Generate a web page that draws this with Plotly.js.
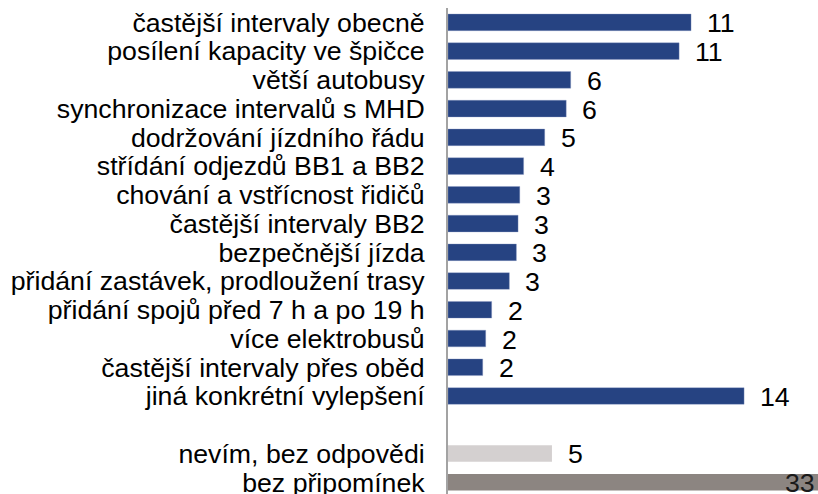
<!DOCTYPE html>
<html>
<head>
<meta charset="utf-8">
<script src="https://cdn.plot.ly/plotly-3.0.1.min.js"></script>
<style>html,body{margin:0;padding:0;background:#fff;}#chart{width:818px;height:494px;}</style>
</head>
<body>
<div id="chart"></div>
<script>
// Data (bar lengths; labels are the rounded values shown)
const improvementCats = [
  "častější intervaly obecně",
  "posílení kapacity ve špičce",
  "větší autobusy",
  "synchronizace intervalů s MHD",
  "dodržování jízdního řádu",
  "střídání odjezdů BB1 a BB2",
  "chování a vstřícnost řidičů",
  "častější intervaly BB2",
  "bezpečnější jízda",
  "přidání zastávek, prodloužení trasy",
  "přidání spojů před 7 h a po 19 h",
  "více elektrobusů",
  "častější intervaly přes oběd",
  "jiná konkrétní vylepšení"
];
const improvementValues = [11.41, 10.85, 5.76, 5.55, 4.54, 3.55, 3.37, 3.29, 3.21, 2.88, 2.05, 1.77, 1.63, 13.9];
const improvementLabels = ["11", "11", "6", "6", "5", "4", "3", "3", "3", "3", "2", "2", "2", "14"];

const blankCat = " ";

const dontKnowCats = ["nevím, bez odpovědi"];
const dontKnowValues = [4.88];
const dontKnowLabels = ["5"];

const noCommentCats = ["bez připomínek"];
const noCommentValues = [33];
const noCommentLabels = ["33"];

const allCats = improvementCats.concat([blankCat], dontKnowCats, noCommentCats);

const XMAX = 17.37;
const FONT = "Liberation Sans, Arial, sans-serif";
const FS = 26.7;

function barTrace(cats, vals, color) {
  return {
    type: "bar",
    orientation: "h",
    y: cats,
    x: vals,
    width: 0.58,
    marker: {color: color, line: {color: "rgba(140,155,195,0.6)", width: 0.6}},
    hoverinfo: "none",
    showlegend: false
  };
}

const traces = [
  barTrace(improvementCats, improvementValues, "#264382"),
  barTrace(dontKnowCats, dontKnowValues, "#D4D0D0"),
  barTrace(noCommentCats, noCommentValues, "#8C8581")
];
traces[1].marker.line = {width: 0};
traces[2].marker.line = {width: 0};

const annotations = [];
function addLabels(cats, vals, labels) {
  cats.forEach((c, i) => {
    const over = vals[i] > XMAX;
    annotations.push({
      x: over ? XMAX : vals[i],
      y: c,
      xref: "x", yref: "y",
      text: labels[i],
      showarrow: false,
      xanchor: over ? "right" : "left",
      yanchor: "middle",
      xshift: over ? -1 : 14,
      yshift: -1,
      font: {family: FONT, size: FS, color: over ? "#1a1a1a" : "#000"}
    });
  });
}
addLabels(improvementCats, improvementValues, improvementLabels);
addLabels(dontKnowCats, dontKnowValues, dontKnowLabels);
addLabels(noCommentCats, noCommentValues, noCommentLabels);

const layout = {
  width: 818,
  height: 494,
  margin: {l: 448, r: 0, t: 8, b: 0, pad: 0},
  paper_bgcolor: "#fff",
  plot_bgcolor: "#fff",
  barmode: "overlay",
  font: {family: FONT, size: FS, color: "#000"},
  xaxis: {
    range: [0, XMAX],
    showgrid: false, zeroline: false, showline: false,
    showticklabels: false, ticks: "", fixedrange: true
  },
  yaxis: {
    type: "category",
    categoryorder: "array",
    categoryarray: allCats,
    tickmode: "array",
    tickvals: allCats,
    ticktext: allCats,
    range: [16.41, -0.5],
    showgrid: false, zeroline: false,
    showline: true, linecolor: "#A3A3A3", linewidth: 2,
    ticks: "",
    ticklabelstandoff: 16,
    tickfont: {family: FONT, size: FS, color: "#000"},
    automargin: false,
    fixedrange: true
  },
  annotations: annotations
};

Plotly.newPlot("chart", traces, layout, {displayModeBar: false, staticPlot: true});
</script>
</body>
</html>
